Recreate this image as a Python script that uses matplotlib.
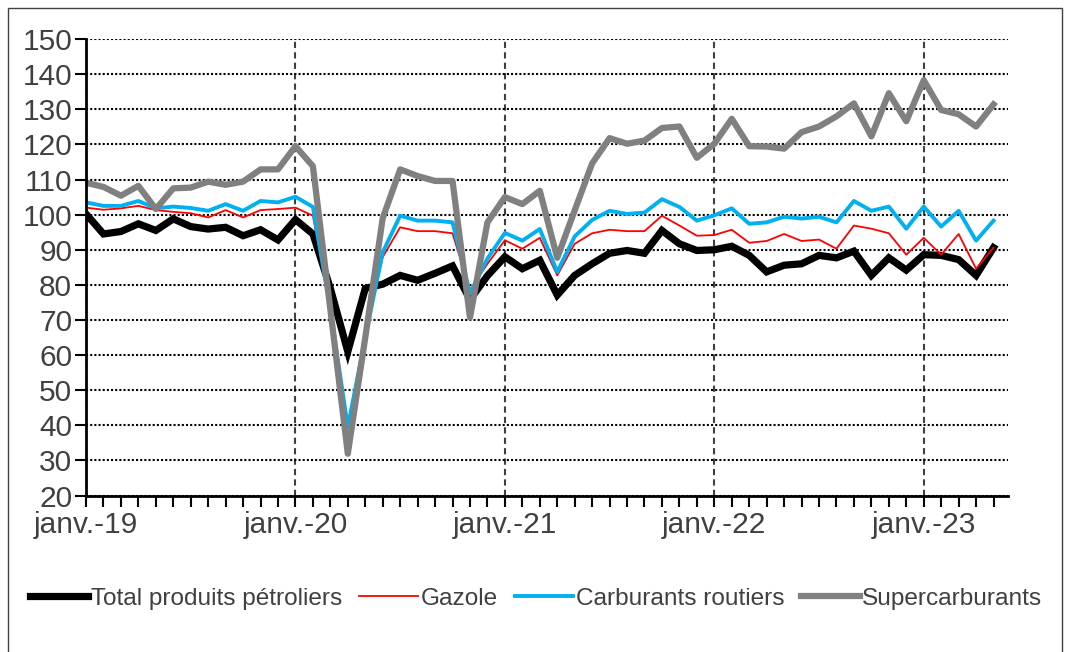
import matplotlib
matplotlib.use('Agg')
import matplotlib.pyplot as plt
from matplotlib.patches import Rectangle

plt.rcParams['font.family'] = ['Liberation Sans', 'DejaVu Sans']

# monthly index, janv. 2019 -> mai 2023
months = list(range(53))
year_ticks = [0, 12, 24, 36, 48]
year_labels = ['janv.-19', 'janv.-20', 'janv.-21', 'janv.-22', 'janv.-23']

total = [100.2, 94.5, 95.2, 97.4, 95.5, 98.8, 96.6, 95.9, 96.4, 94.0, 95.7, 92.8,
         98.6, 94.5, 79.0, 61.0, 79.0, 80.2, 82.7, 81.3, 83.3, 85.4, 75.8, 82.6,
         88.0, 84.6, 87.0, 77.1, 82.7, 86.0, 89.0, 89.8, 89.0, 95.5, 91.7, 89.8,
         90.0, 91.0, 88.4, 83.7, 85.6, 86.0, 88.4, 87.7, 89.6, 82.7, 87.7, 84.2,
         88.6, 88.4, 87.2, 82.7, 90.6]
gazole = [102.0, 101.4, 101.8, 102.5, 101.3, 100.8, 100.4, 99.2, 101.3, 99.2, 101.3, 101.6,
          102.0, 99.7, 73.0, 40.0, 66.0, 87.9, 96.4, 95.3, 95.3, 94.7, 78.5, 86.0,
          92.7, 90.3, 93.4, 82.7, 91.7, 94.7, 95.7, 95.3, 95.3, 99.7, 96.9, 94.0,
          94.2, 95.7, 92.0, 92.5, 94.5, 92.5, 92.9, 90.3, 96.9, 96.0, 94.7, 88.6,
          93.4, 88.6, 94.5, 84.6, 90.6]
routiers = [103.5, 102.5, 102.5, 103.9, 101.8, 102.3, 101.9, 101.1, 103.0, 101.1, 103.9, 103.5,
            105.1, 102.2, 73.0, 39.5, 65.0, 89.3, 99.7, 98.3, 98.3, 97.8, 77.6, 87.5,
            94.8, 92.6, 95.9, 83.7, 93.8, 98.5, 101.1, 100.2, 100.6, 104.4, 102.2, 98.3,
            99.8, 101.8, 97.4, 97.8, 99.4, 98.9, 99.4, 97.8, 103.9, 101.1, 102.3, 96.0,
            102.3, 96.6, 101.1, 92.6, 98.3]
super_ = [109.1, 107.9, 105.4, 108.2, 101.6, 107.5, 107.7, 109.4, 108.5, 109.4, 112.9, 112.9,
          119.5, 113.8, 73.0, 31.9, 65.0, 99.0, 112.9, 111.0, 109.6, 109.6, 70.7, 97.8,
          105.0, 103.0, 106.8, 87.7, 101.2, 114.6, 121.8, 120.2, 121.1, 124.7, 125.1, 116.2,
          120.2, 127.3, 119.5, 119.4, 118.8, 123.5, 125.1, 128.0, 131.7, 122.3, 134.6, 126.6,
          138.3, 129.8, 128.6, 125.1, 131.4]

txt = '#404040'

fig = plt.figure(figsize=(10.7, 6.52), dpi=100)
ax = fig.add_axes([0.0804, 0.240, 0.862, 0.700])

ax.plot(months, total, color='black', lw=5.2, label='Total produits pétroliers', solid_joinstyle='miter')
ax.plot(months, gazole, color='#FF0000', lw=1.3, label='Gazole')
ax.plot(months, routiers, color='#00B0F0', lw=2.8, label='Carburants routiers')
ax.plot(months, super_, color='#808080', lw=4.5, label='Supercarburants')

ax.set_xlim(0, 52.85)
ax.set_ylim(20, 150)
ax.set_yticks(range(20, 151, 10))
ax.set_xticks(year_ticks)
ax.set_xticklabels(year_labels)
ax.set_xticks(months, minor=True)

ax.yaxis.grid(True, linestyle=(0, (1, 1)), color='black', lw=1.5)
ax.xaxis.grid(True, which='major', linestyle=(0, (3, 2)), color='#404040', lw=1.5)

for s in ['top', 'right']:
    ax.spines[s].set_visible(False)
for s in ['left', 'bottom']:
    ax.spines[s].set_linewidth(2)
    ax.spines[s].set_color('black')

ax.tick_params(axis='both', which='both', direction='out', length=8, width=1.5,
               colors='black', labelcolor=txt, labelsize=21.5)
ax.tick_params(axis='y', pad=2)
ax.tick_params(axis='x', pad=3)

leg = fig.legend(loc='center', bbox_to_anchor=(0.501, 0.082), ncol=4, frameon=False,
                 fontsize=17.6, handlelength=2.4, handletextpad=0.1, columnspacing=0.7)
for t in leg.get_texts():
    t.set_color(txt)

fig.patches.append(Rectangle((0.0075, -0.05), 0.985, 1.0377, transform=fig.transFigure,
                             fill=False, edgecolor='#404040', lw=1))

fig.savefig('out.png', dpi=100)
